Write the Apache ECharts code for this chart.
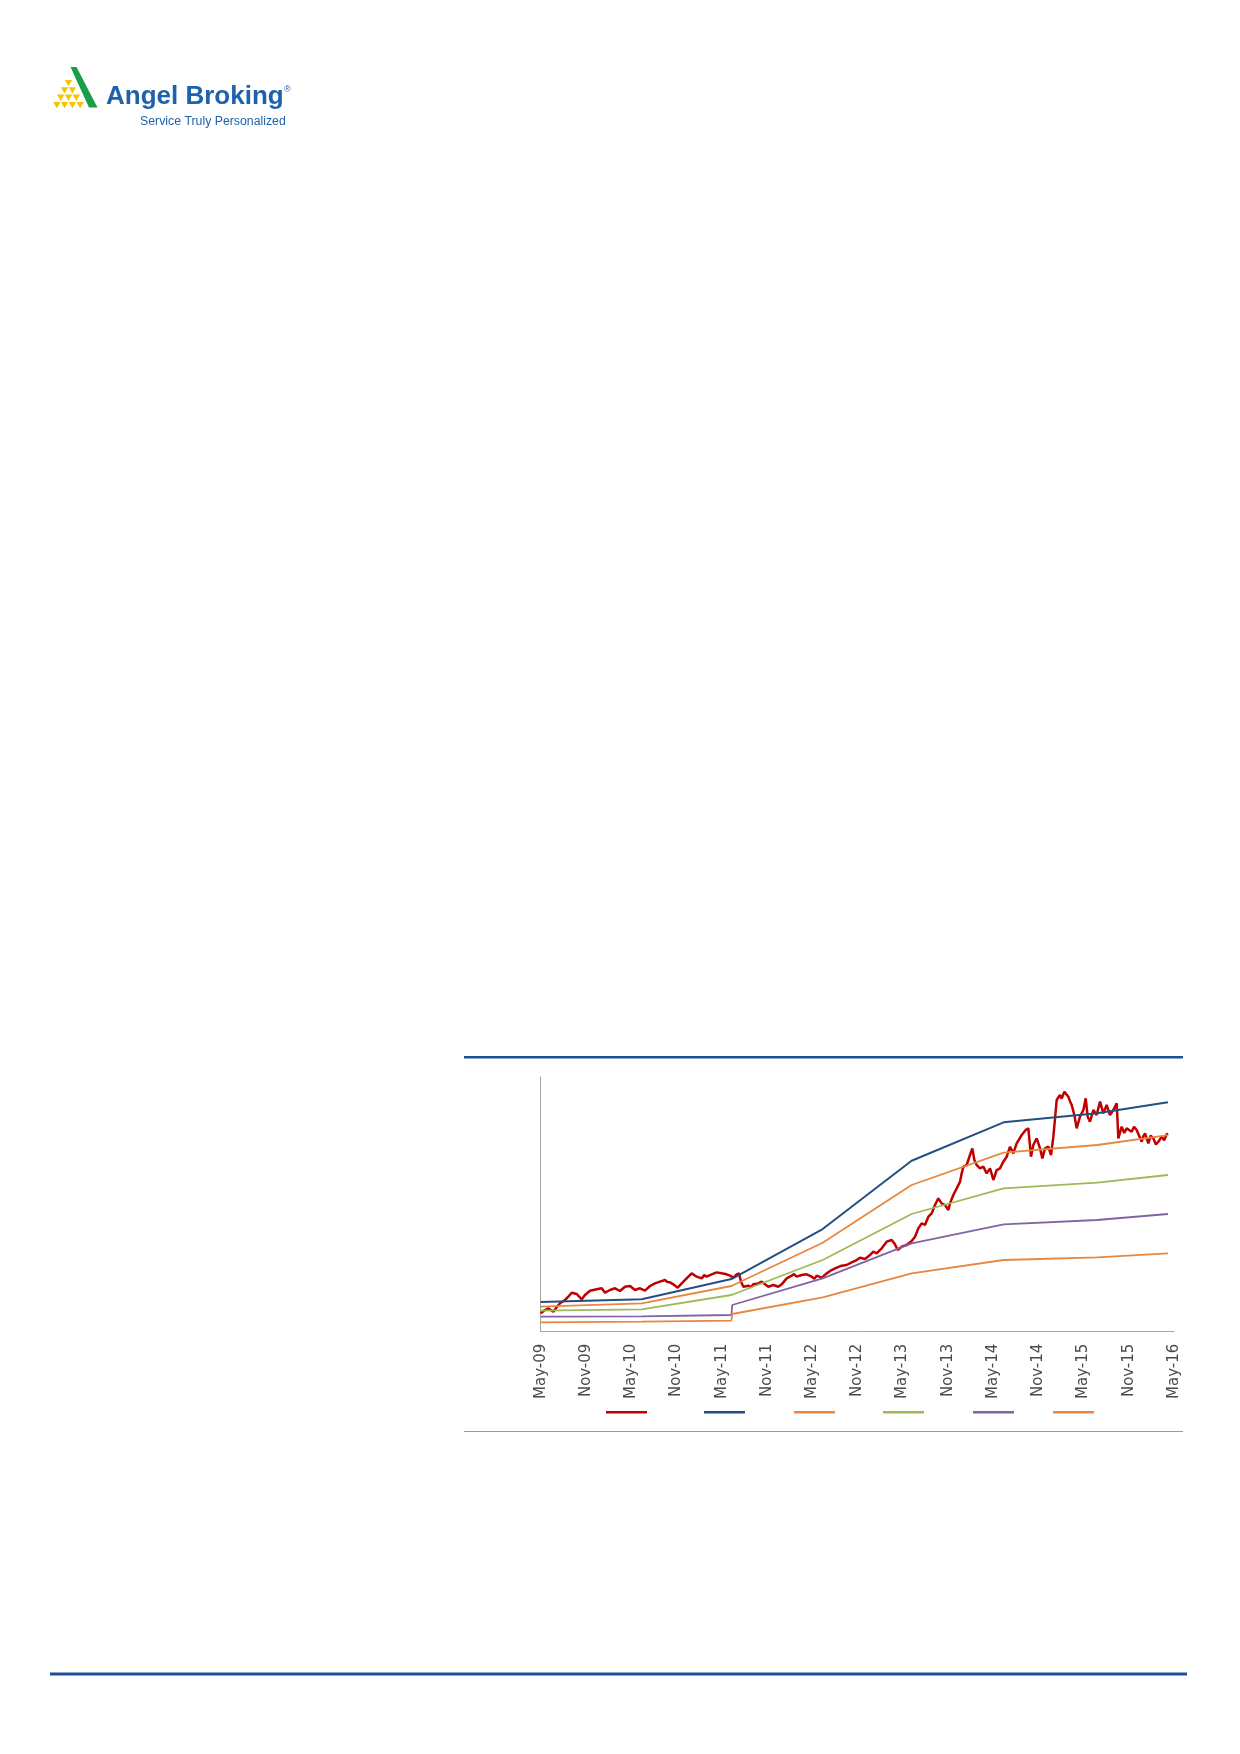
<!DOCTYPE html>
<html><head><meta charset="utf-8">
<script src="https://cdn.jsdelivr.net/npm/echarts@6/dist/echarts.min.js"></script>
<style>html,body{margin:0;padding:0;background:#fff}#c{width:1240px;height:1754px}</style>
</head><body><div id="c"></div>
<script>
// ---- data (months since May-09 on x; price-like units on y) ----
const tickLabels = ['May-09','Nov-09','May-10','Nov-10','May-11','Nov-11','May-12','Nov-12','May-13','Nov-13','May-14','Nov-14','May-15','Nov-15','May-16'];
const seriesNames = ['Price','Band 1','Band 2','Band 3','Band 4','Band 5'];
const seriesColors = ['#C00000','#254E84','#E8873D','#9BBB59','#8064A2','#E8873D'];

const priceMonths = [0,0.57,1.01,1.67,2.12,2.56,3.22,3.66,4.11,4.78,5.44,5.88,6.54,7.43,8.09,8.53,9.19,9.86,10.52,11.18,11.85,12.51,13.17,13.83,14.5,
  15.16,15.82,16.49,16.8,17.15,17.59,18.17,18.7,19.36,20.02,20.69,21.35,21.7,22.01,22.68,23.34,24.0,24.67,25.11,25.55,25.99,26.3,26.57,26.88,27.54,27.9,28.2,28.87,29.31,29.75,30.19,30.86,31.52,31.96,32.63,33.29,33.6,33.95,34.62,35.28,35.94,36.3,36.61,37.27,37.93,38.59,39.26,39.92,40.58,41.25,41.91,42.35,43.02,43.68,44.12,44.56,45.23,45.89,46.55,46.99,47.35,47.88,48.54,49.21,49.65,50.09,50.53,50.97,51.42,51.86,52.3,52.74,53.18,53.63,54.07,54.29,54.73,55.18,55.62,55.84,56.06,56.5,56.94,57.25,57.52,57.83,58.27,58.71,59.15,59.6,60.04,60.48,60.92,61.36,61.81,62.25,62.69,63.13,63.8,64.33,64.68,65.03,65.34,65.79,66.23,66.54,66.89,67.33,67.69,68.0,68.22,68.44,68.88,69.1,69.46,69.99,70.2,70.43,70.78,71.09,71.53,71.98,72.29,72.55,72.86,73.3,73.74,74.19,74.63,75.07,75.51,75.95,76.4,76.62,77.06,77.4,77.72,78.39,78.7,79.05,79.71,79.9,80.16,80.6,80.9,81.26,81.6,81.93,82.37,82.7,83.03,83.24];
const priceValues = [72.2,85.2,91.9,78.5,95.8,111.5,124.5,137.4,153.1,148.0,127.2,144.1,161.0,166.5,170.4,153.1,163.7,170.4,159.8,176.7,179.4,163.7,170.4,161.0,179.4,
  189.8,196.4,202.9,195,193.7,185.9,172.8,189.8,209.5,229.1,216.0,209.5,222,216.0,225.2,233.0,229.1,225.2,219.9,212.1,225.2,229.1,196.4,176.7,180.7,175,185.9,189.8,196.4,185.9,176.7,183.3,176.7,185.9,209.5,219.9,226,216.0,222.6,225.2,216.0,208,219.9,212.1,229.1,242.2,251.3,259.2,261.8,272.3,281.4,290.6,285.3,301.1,314.2,307.6,327.2,353.4,360.0,343.0,320.7,333.8,340.3,356.0,373.0,405.8,425.4,418.9,451.6,464.7,497.4,523.5,503.9,497.4,477.7,503.9,536.6,562.8,589.0,621.7,647.9,654.4,693.7,719.8,674.0,654.4,641.3,647.9,621.7,641.3,595.5,634.8,641.3,667.5,687.1,726.4,700.2,739.5,772.2,791.8,798.4,687.1,732.9,759.1,719.8,680.6,719.8,726.4,693.7,765.7,837.6,909.6,929.2,915,942.3,922.7,905,890.0,850.7,798.4,844.2,870.4,916.2,844.2,824.5,870.4,850.7,903.1,857.3,890.0,850.7,870.4,896.5,759.1,804.9,780,798.4,785.3,805,791.8,746.0,765,778.7,739.5,770,759.1,735,746.0,765.7,752,774.9,776];

const bandMonths = [0,13.4,25.3,25.4,37.4,49.2,61.4,73.8,83.2];
const band1 = [116.6,127.2,206.9,206.9,403.2,671.3,822.1,857.4,900.6];
const band2 = [98.2,111.5,179.4,179.4,349.4,575.9,702.8,733.0,772.2];
const band3 = [82.4,87.9,144.1,144.1,281.5,462.1,563.0,585.0,615.2];
const band4 = [58.9,60.5,65.6,104.8,209.6,347.1,421.7,438.5,462.1];
const band5 = [36.9,39.3,43.2,69.5,135.1,229.3,281.5,292.1,307.8];

// ---- build ----
const zip = (xs, ys) => xs.map((x, i) => [x, ys[i]]);
const seriesData = [zip(priceMonths, priceValues), zip(bandMonths, band1), zip(bandMonths, band2), zip(bandMonths, band3), zip(bandMonths, band4), zip(bandMonths, band5)];
const widths = [2.5, 2, 1.8, 1.8, 1.8, 1.8];
const legendLeft = [606, 704, 794, 883, 973, 1053];

const logoBlue = '#1E62AC';
const tri = [];
const rowsCfg = [[68.5],[64.6,72.4],[60.7,68.5,76.3],[56.8,64.6,72.4,80.2]];
rowsCfg.forEach((row, r) => {
  const top = 80 + r * 7.3;
  row.forEach(cx => {
    tri.push({type:'polygon', shape:{points:[[cx-3.7,top],[cx+3.7,top],[cx,top+6.3]]}, style:{fill:'#F5C400'}});
  });
});

const chart = echarts.init(document.getElementById('c'), null, {renderer:'canvas'});
chart.setOption({
  animation: false,
  backgroundColor: '#ffffff',
  grid: {left: 540.7, top: 1077, width: 633.3, height: 254.7, containLabel: false},
  xAxis: {
    type: 'value', min: 0, max: 84, interval: 6,
    axisLine: {show: true, lineStyle: {color: '#A6A6A6', width: 1}},
    axisTick: {show: false},
    splitLine: {show: false},
    axisLabel: {rotate: 90, margin: 12, color: '#4A4A4A', fontFamily: 'DejaVu Sans', fontSize: 15,
      formatter: v => tickLabels[Math.round(v / 6)] || ''}
  },
  yAxis: {
    type: 'value', min: 0, max: 1000,
    axisLine: {show: true, lineStyle: {color: '#A6A6A6', width: 1}},
    axisTick: {show: false}, axisLabel: {show: false}, splitLine: {show: false}
  },
  legend: seriesNames.map((n, i) => ({
    data: [n], left: legendLeft[i], top: 1411, padding: 0,
    icon: 'rect', itemWidth: 41, itemHeight: 2.5, itemGap: 0,
    formatter: () => '', textStyle: {fontSize: 1}, selectedMode: false
  })),
  series: seriesNames.map((n, i) => ({
    name: n, type: 'line', data: seriesData[i], showSymbol: false, symbol: 'none',
    color: seriesColors[i], lineStyle: {color: seriesColors[i], width: widths[i]},
    itemStyle: {color: seriesColors[i]}, z: 2
  })),
  graphic: [
    ...tri,
    {type:'polygon', shape:{points:[[70.5,67],[76.5,67],[97.5,107.5],[89,107.5]]}, style:{fill:'#1A9E4A'}},
    {type:'text', left: 106, top: 84, style:{text:'Angel Broking', fill: logoBlue, font:'bold 26px "Liberation Sans", Arial, sans-serif'}},
    {type:'text', left: 284, top: 85, style:{text:'®', fill: logoBlue, font:'9px "Liberation Sans", Arial, sans-serif'}},
    {type:'text', left: 140, top: 115.5, style:{text:'Service Truly Personalized', fill: logoBlue, font:'12.3px "Liberation Sans", Arial, sans-serif'}},
    {type:'rect', shape:{x:464, y:1056, width:719, height:2.5}, style:{fill:'#1B4F9C'}},
    {type:'rect', shape:{x:464, y:1431, width:719, height:1}, style:{fill:'#7A9CC6'}},
    {type:'rect', shape:{x:50, y:1672.5, width:1137, height:3}, style:{fill:'#1D4F9A'}}
  ]
});
</script></body></html>
